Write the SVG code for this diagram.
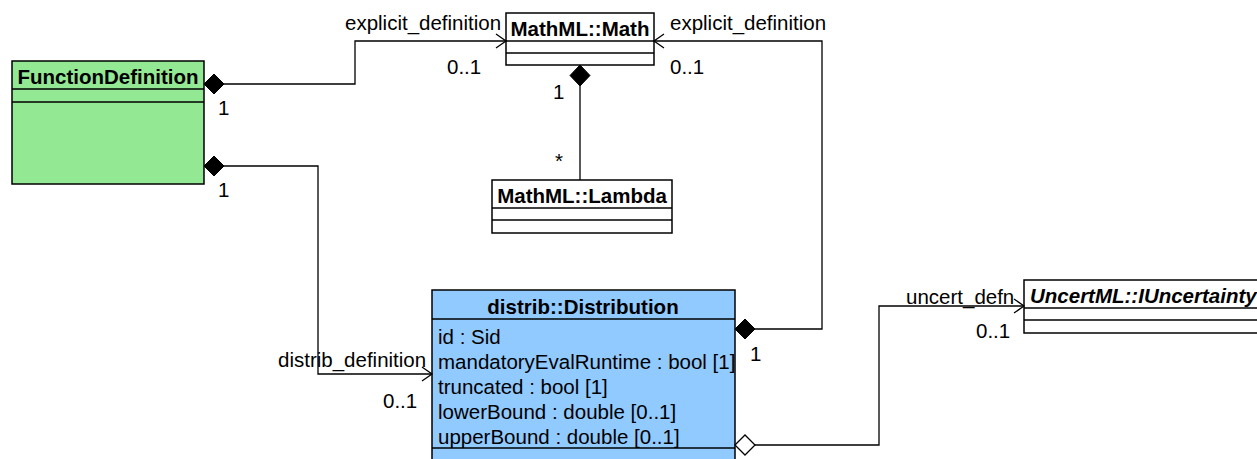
<svg xmlns="http://www.w3.org/2000/svg" width="1257" height="459" viewBox="0 0 1257 459">
<style>
.box{stroke:#000;stroke-width:1.5}
.ln{stroke:#000;stroke-width:1.3;fill:none}
.t{font-family:"Liberation Sans",Arial,sans-serif;font-size:20.5px;fill:#000}
.b{font-weight:bold}
.c{text-anchor:middle}
.e{text-anchor:end}
.wire{fill:none;stroke:#000;stroke-width:1.3}
.fd{fill:#000;stroke:#000;stroke-width:1}
.od{fill:#fff;stroke:#000;stroke-width:1.3}
.arr{fill:none;stroke:#000;stroke-width:1.3}
</style>
<rect width="1257" height="459" fill="#fff"/>
<g id="FunctionDefinition">
<rect class="box" x="12" y="61" width="192" height="123" fill="#93e893"/>
<line class="ln" x1="12" y1="89" x2="204" y2="89"/>
<line class="ln" x1="12" y1="102" x2="204" y2="102"/>
<text class="t b c" x="108" y="84">FunctionDefinition</text>
</g>
<g id="MathML_Math">
<rect class="box" x="506" y="13" width="148" height="52" fill="#fff"/>
<line class="ln" x1="506" y1="41" x2="654" y2="41"/>
<line class="ln" x1="506" y1="53" x2="654" y2="53"/>
<text class="t b c" x="580" y="36">MathML::Math</text>
</g>
<g id="MathML_Lambda">
<rect class="box" x="492" y="180" width="180" height="53" fill="#fff"/>
<line class="ln" x1="492" y1="208" x2="672" y2="208"/>
<line class="ln" x1="492" y1="220" x2="672" y2="220"/>
<text class="t b c" x="582" y="203">MathML::Lambda</text>
</g>
<g id="distrib_Distribution">
<rect class="box" x="432" y="290" width="303" height="180" fill="#90caff"/>
<line class="ln" x1="432" y1="319" x2="735" y2="319"/>
<line class="ln" x1="432" y1="448" x2="735" y2="448"/>
<text class="t b c" x="583" y="314">distrib::Distribution</text>
<text class="t" x="438" y="344">id : Sid</text>
<text class="t" x="438" y="369">mandatoryEvalRuntime : bool [1]</text>
<text class="t" x="438" y="394">truncated : bool [1]</text>
<text class="t" x="438" y="419">lowerBound : double [0..1]</text>
<text class="t" x="438" y="444">upperBound : double [0..1]</text>
</g>
<g id="UncertML_IUncertainty">
<rect class="box" x="1024" y="280" width="260" height="53" fill="#fff"/>
<line class="ln" x1="1024" y1="308" x2="1284" y2="308"/>
<line class="ln" x1="1024" y1="320" x2="1284" y2="320"/>
<text class="t b" x="1030" y="303" font-style="italic">UncertML::IUncertainty</text>
</g>
<g id="connectors">
<path class="wire" d="M224 84 H355 V41 H506"/>
<path class="fd" d="M204 84 L214 74 L224 84 L214 94 Z"/>
<path class="arr" d="M496 34 L506 41 L496 48"/>
<text class="t" x="345" y="30">explicit_definition</text>
<text class="t" x="447" y="74">0..1</text>
<text class="t" x="218" y="115">1</text>
<path class="wire" d="M755 329 H822 V41 H654"/>
<path class="fd" d="M735 329 L745 319 L755 329 L745 339 Z"/>
<path class="arr" d="M664 34 L654 41 L664 48"/>
<text class="t" x="670" y="30">explicit_definition</text>
<text class="t" x="670" y="74">0..1</text>
<text class="t" x="750" y="361">1</text>
<path class="wire" d="M580 86 V180"/>
<path class="fd" d="M580 65 L590 75.5 L580 86 L570 75.5 Z"/>
<text class="t" x="553" y="99">1</text>
<text class="t" x="555" y="168">*</text>
<path class="wire" d="M224 166 H318 V374 H432"/>
<path class="fd" d="M204 166 L214 156 L224 166 L214 176 Z"/>
<path class="arr" d="M422 367 L432 374 L422 381"/>
<text class="t" x="278" y="367">distrib_definition</text>
<text class="t" x="383" y="408">0..1</text>
<text class="t" x="218" y="197">1</text>
<path class="wire" d="M755 445 H879 V306 H1024"/>
<path class="od" d="M735 445 L745 435 L755 445 L745 455 Z"/>
<path class="arr" d="M1014 299 L1024 306 L1014 313"/>
<text class="t" x="906" y="304">uncert_defn</text>
<text class="t" x="976" y="338">0..1</text>
</g>
</svg>
